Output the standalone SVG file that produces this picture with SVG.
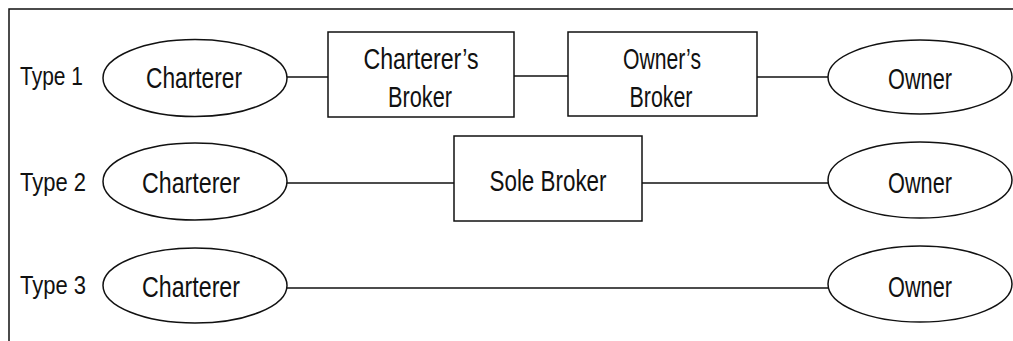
<svg xmlns="http://www.w3.org/2000/svg" width="1013" height="341" viewBox="0 0 1013 341">
<style>
.shape{fill:#fff;stroke:#111;stroke-width:1.5}
.conn{stroke:#111;stroke-width:1.3;fill:none}
.frame{stroke:#111;stroke-width:1.5;fill:none}
.lbl{font-family:"Liberation Sans",Arial,sans-serif;font-size:29px;fill:#111;text-anchor:middle}
.type{font-family:"Liberation Sans",Arial,sans-serif;font-size:25px;fill:#111}
</style>
<rect width="1013" height="341" fill="#fff"/>
<path class="frame" d="M9,341 V9 H1013"/>
<g id="type-labels">
<text class="type" x="20" y="85" textLength="63" lengthAdjust="spacingAndGlyphs">Type 1</text>
<text class="type" x="20" y="191" textLength="66" lengthAdjust="spacingAndGlyphs">Type 2</text>
<text class="type" x="20" y="294" textLength="66" lengthAdjust="spacingAndGlyphs">Type 3</text>
</g>
<g id="connectors">
<line class="conn" x1="287" y1="77" x2="328" y2="77"/>
<line class="conn" x1="514" y1="76" x2="568" y2="76"/>
<line class="conn" x1="757" y1="77" x2="828" y2="77"/>
<line class="conn" x1="287" y1="183" x2="454" y2="183"/>
<line class="conn" x1="642" y1="183" x2="828" y2="183"/>
<line class="conn" x1="287" y1="288" x2="828" y2="288"/>
</g>
<g id="charterer1"><ellipse class="shape" cx="195" cy="78" rx="92" ry="38.5"/><text class="lbl" x="194" y="88" textLength="96" lengthAdjust="spacingAndGlyphs">Charterer</text></g>
<g id="charterers-broker"><rect class="shape" x="328" y="32" width="186" height="85"/><text class="lbl" x="421" y="69" textLength="115" lengthAdjust="spacingAndGlyphs">Charterer’s</text><text class="lbl" x="420" y="107" textLength="64" lengthAdjust="spacingAndGlyphs">Broker</text></g>
<g id="owners-broker"><rect class="shape" x="568" y="32" width="189" height="84"/><text class="lbl" x="662" y="69" textLength="78" lengthAdjust="spacingAndGlyphs">Owner’s</text><text class="lbl" x="661" y="107" textLength="63" lengthAdjust="spacingAndGlyphs">Broker</text></g>
<g id="owner1"><ellipse class="shape" cx="920" cy="77" rx="92" ry="37"/><text class="lbl" x="920" y="89" textLength="64" lengthAdjust="spacingAndGlyphs">Owner</text></g>
<g id="charterer2"><ellipse class="shape" cx="195" cy="181.5" rx="92" ry="38.5"/><text class="lbl" x="191" y="193" textLength="98" lengthAdjust="spacingAndGlyphs">Charterer</text></g>
<g id="sole-broker"><rect class="shape" x="454" y="136" width="188" height="85"/><text class="lbl" x="548" y="191" textLength="117" lengthAdjust="spacingAndGlyphs">Sole Broker</text></g>
<g id="owner2"><ellipse class="shape" cx="920" cy="180" rx="92" ry="38"/><text class="lbl" x="920" y="193" textLength="64" lengthAdjust="spacingAndGlyphs">Owner</text></g>
<g id="charterer3"><ellipse class="shape" cx="195" cy="285.5" rx="92" ry="37.5"/><text class="lbl" x="191" y="297" textLength="98" lengthAdjust="spacingAndGlyphs">Charterer</text></g>
<g id="owner3"><ellipse class="shape" cx="920" cy="284" rx="92" ry="38"/><text class="lbl" x="920" y="297" textLength="64" lengthAdjust="spacingAndGlyphs">Owner</text></g>
</svg>
